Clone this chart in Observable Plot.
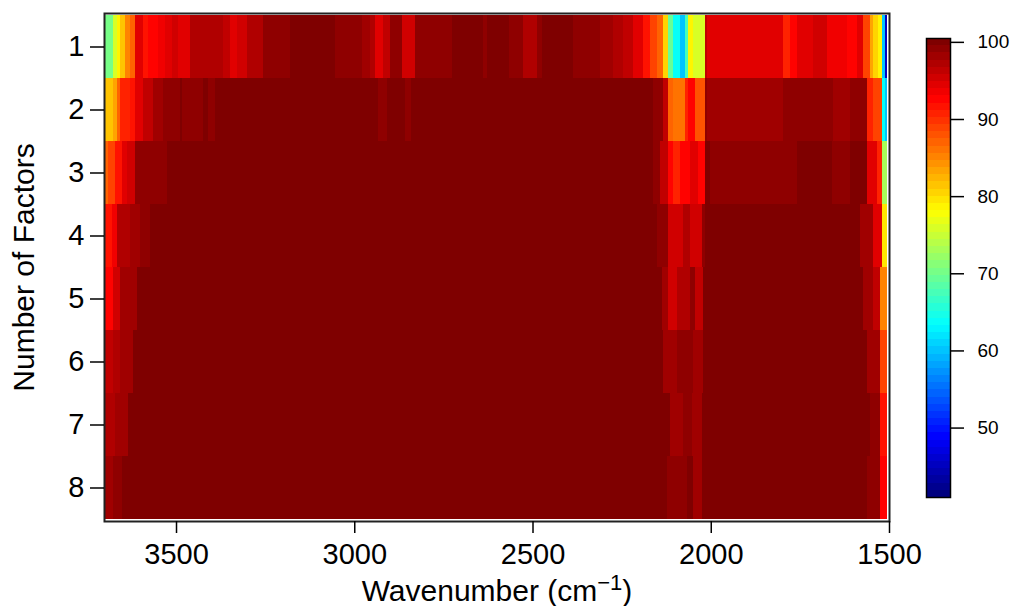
<!DOCTYPE html>
<html>
<head>
<meta charset="utf-8">
<script src="https://cdn.jsdelivr.net/npm/d3@7"></script>
<script src="https://cdn.jsdelivr.net/npm/@observablehq/plot@0.6"></script>
<style>
  body { margin: 0; background: #fff; }
  #wrap { position: relative; width: 1018px; height: 606px; font-family: "Liberation Sans", Arial, Helvetica, sans-serif; }
  #main { position: absolute; left: 0; top: 0; }
  #bar { position: absolute; left: 900px; top: 0; }
</style>
</head>
<body>
<div id="wrap"><div id="main"></div><div id="bar"></div></div>
<script>
// ---------- data ----------
const factors = [1, 2, 3, 4, 5, 6, 7, 8];
const xTicks = [3500, 3000, 2500, 2000, 1500];
const colorTicks = [50, 60, 70, 80, 90, 100];
const wavenumberDomain = [3702, 1500];
const lastWavenumber = 1505;
const colorDomain = [41, 100.5];

// each row: [segment start wavenumber, % value]; a segment runs to the next start
const row1 = [[3702,70.3],[3677,75.8],[3666,78.6],[3657,81.4],[3643,85.2],[3629,87.0],[3615,94.4],[3593,91.7],[3579,92.6],[3551,93.5],[3531,94.4],[3511,95.4],[3494,94.4],[3461,97.2],[3368,96.3],[3348,94.4],[3329,95.4],[3301,97.2],[3256,99.1],[3180,100],[3054,99.1],[2978,98.1],[2956,97.2],[2942,94.4],[2919,96.3],[2900,99.1],[2866,95.4],[2830,99.1],[2726,100],[2639,99.1],[2627,100],[2566,99.1],[2527,97.2],[2487,99.1],[2473,100],[2386,99.1],[2311,98.1],[2274,97.2],[2246,96.3],[2218,94.4],[2190,91.7],[2170,88.9],[2151,87.0],[2134,80.5],[2120,69.3],[2106,63.7],[2086,60.0],[2072,67.5],[2064,78.6],[2050,76.0],[2016,96.3],[2011,94.4],[1797,90.7],[1778,92.6],[1758,94.4],[1713,95.4],[1674,93.5],[1618,92.6],[1590,94.4],[1573,88.9],[1553,83.3],[1545,80.5],[1531,78.6],[1520,60.0],[1511,45.0]];
const row2 = [[3702,81.4],[3677,83.3],[3666,87.0],[3657,90.7],[3629,91.7],[3615,94.4],[3593,96.3],[3564,98.1],[3536,99.1],[3489,100],[3483,99.1],[3424,100],[3410,99.1],[3391,100],[2933,99.1],[2908,100],[2858,99.1],[2841,100],[2162,99.1],[2134,96.3],[2120,87.0],[2106,86.1],[2072,90.7],[2064,92.6],[2044,88.0],[2016,99.1],[2011,98.1],[1797,99.1],[1657,98.1],[1609,99.1],[1562,90.7],[1545,88.9],[1520,63.7],[1511,60.0]];
const row3 = [[3702,87.0],[3691,88.9],[3671,91.7],[3652,94.4],[3637,95.4],[3615,99.1],[3525,100],[2162,99.1],[2142,96.3],[2120,92.6],[2106,90.7],[2086,92.6],[2058,94.4],[2036,92.6],[2016,100],[2002,99.1],[1758,100],[1660,99.1],[1609,100],[1562,94.4],[1534,90.7],[1520,73.0]];
const row4 = [[3702,91.7],[3680,93.5],[3666,97.2],[3629,98.1],[3601,99.1],[3573,100],[2151,99.1],[2120,95.4],[2078,97.2],[2058,95.4],[2025,99.1],[2016,100],[1581,98.1],[1545,94.4],[1520,79.6]];
const row5 = [[3702,92.6],[3677,95.4],[3657,98.1],[3609,100],[2137,98.1],[2120,95.4],[2095,97.2],[2058,99.1],[2044,96.3],[2022,100],[1573,98.1],[1545,96.3],[1525,85.2]];
const row6 = [[3702,96.3],[3677,97.2],[3657,98.1],[3621,100],[2134,98.1],[2095,99.1],[2050,98.1],[2022,100],[1562,98.1],[1525,88.9]];
const row7 = [[3702,97.2],[3671,98.1],[3635,100],[2114,98.1],[2078,99.1],[2053,98.1],[2025,100],[1553,99.1],[1525,91.7]];
const row8 = [[3702,98.1],[3677,99.1],[3652,100],[2123,99.1],[2067,100],[2050,98.1],[2025,100],[1562,99.1],[1525,92.6]];
const rows = [row1, row2, row3, row4, row5, row6, row7, row8];

// ---------- build table ----------
const cells = [];
rows.forEach((row, r) => {
  row.forEach(([start, value], j) => {
    const end = j + 1 < row.length ? row[j + 1][0] : lastWavenumber;
    cells.push({factor: factors[r], x1: start, x2: end, value});
  });
});

// jet palette, 64 colours
const jetStops = ["#00007F", "#0000FF", "#007FFF", "#00FFFF", "#7FFF7F", "#FFFF00", "#FF7F00", "#FF0000", "#7F0000"];
const nColors = 64;
const jet = d3.piecewise(d3.interpolateRgb, jetStops);
const palette = d3.range(nColors).map(i => jet(i / (nColors - 1)));
const step = (colorDomain[1] - colorDomain[0]) / nColors;
const thresholds = d3.range(1, nColors).map(i => colorDomain[0] + i * step);
const colorScale = {type: "threshold", domain: thresholds, range: palette};

const font = '"Liberation Sans", Arial, Helvetica, sans-serif';

// ---------- main heatmap ----------
const main = Plot.plot({
  width: 1018, height: 606,
  marginLeft: 104, marginRight: 129, marginTop: 13, marginBottom: 85,
  style: {fontFamily: font, fontSize: "29px", color: "#000", background: "transparent"},
  x: {domain: wavenumberDomain, label: null},
  y: {type: "band", domain: factors, padding: 0, label: null},
  color: colorScale,
  marks: [
    Plot.barX(cells, {x1: "x1", x2: "x2", y: "factor", fill: "value", shapeRendering: "crispEdges"}),
    Plot.frame({stroke: "#222", strokeWidth: 2}),
    Plot.axisX({ticks: xTicks, tickFormat: d => String(d), tickSize: 12, tickPadding: 10, strokeWidth: 1.5,
      fontSize: 29, label: "Wavenumber (cm−1)", labelAnchor: "center", labelOffset: 79}),
    Plot.axisY({tickSize: 14, tickPadding: 6, strokeWidth: 1.5, fontSize: 29,
      label: "Number of Factors", labelAnchor: "center", labelOffset: 92})
  ]
});
document.getElementById("main").appendChild(main);

// superscript on the x label
d3.select(main).selectAll('g[aria-label="x-axis label"] text').each(function () {
  const t = d3.select(this);
  t.text(null).style("font-size", "30px");
  t.append("tspan").text("Wavenumber (cm");
  t.append("tspan").attr("dy", "-11").style("font-size", "22px").text("−1");
  t.append("tspan").attr("dy", "11").text(")");
});
d3.select(main).selectAll('g[aria-label="y-axis label"] text').style("font-size", "30px");

// ---------- colour bar ----------
const bands = d3.range(nColors).map(i => ({
  lo: colorDomain[0] + i * step,
  hi: colorDomain[0] + (i + 1) * step,
  mid: colorDomain[0] + (i + 0.5) * step
}));
const bar = Plot.plot({
  width: 118, height: 606,
  marginLeft: 26, marginRight: 68, marginTop: 38, marginBottom: 109,
  style: {fontFamily: font, fontSize: "19px", color: "#000", background: "transparent"},
  y: {domain: colorDomain, label: null},
  color: colorScale,
  marks: [
    Plot.rect(bands, {y1: "lo", y2: "hi", fill: "mid", shapeRendering: "crispEdges"}),
    Plot.frame({stroke: "#000", strokeWidth: 1.5}),
    Plot.axisY({anchor: "right", ticks: colorTicks, tickSize: 13, tickPadding: 14, strokeWidth: 1.5, fontSize: 19, label: null})
  ]
});
document.getElementById("bar").appendChild(bar);
</script>
</body>
</html>
